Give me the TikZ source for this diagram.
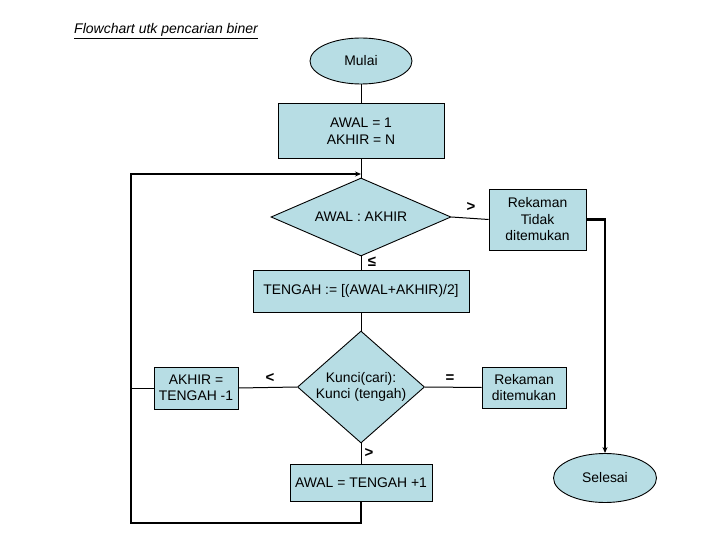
\documentclass[tikz,border=0pt]{standalone}
\usepackage{fontspec}
\setmainfont{Liberation Sans}
\usetikzlibrary{shapes.geometric,arrows.meta}
\definecolor{boxfill}{RGB}{183,221,228}
\begin{document}
\begin{tikzpicture}[x=1pt,y=-1pt,
  base/.style={draw=black,line width=0.9pt,fill=boxfill,font=\fontsize{13.9}{16.5}\selectfont,align=center,inner sep=0pt},
  procbox/.style={base,rectangle},
  term/.style={base,ellipse},
  decide/.style={base,diamond},
  conn/.style={line width=1pt},
  loopline/.style={line width=2.2pt},
  lbl/.style={font=\fontsize{15}{16}\selectfont\bfseries,inner sep=0pt}
]
\useasboundingbox (0,0) rectangle (720,540);

\node[anchor=base west,inner sep=0pt,font=\fontsize{14}{16}\selectfont\itshape] (title) at (74,34) {\underline{Flowchart utk pencarian biner}};

\node[term,minimum width=102pt,minimum height=46pt] (mulai) at (361,61) {Mulai};
\node[procbox,minimum width=166pt,minimum height=55pt] (init) at (361,131) {AWAL = 1\\AKHIR = N};
\node[decide,shape aspect=2.3,minimum width=180pt,minimum height=78pt] (d1) at (361,217) {AWAL : AKHIR};
\node[procbox,minimum width=97pt,minimum height=61pt] (tidak) at (537.5,219.5) {Rekaman\\Tidak\\ditemukan};
\node[procbox,minimum width=216pt,minimum height=42pt] (tengah) at (361,291) {TENGAH := [(AWAL+AKHIR)/2]};
\node[decide,shape aspect=1.13,minimum width=127pt,minimum height=112pt] (d2) at (361,387) {Kunci(cari):\\Kunci (tengah)};
\node[procbox,minimum width=84pt,minimum height=41pt] (found) at (524,387.5) {Rekaman\\ditemukan};
\node[procbox,minimum width=84pt,minimum height=42pt] (akhir) at (196,388) {AKHIR =\\TENGAH -1};
\node[procbox,minimum width=142pt,minimum height=37pt] (awal2) at (361,482.5) {AWAL = TENGAH +1};
\node[term,minimum width=103pt,minimum height=49pt] (selesai) at (605,478) {Selesai};

\coordinate (loopin) at (361,174);
\coordinate (lefttap) at (131,388);
\coordinate (lb) at (361,523);
\coordinate (lbl2) at (131,523);
\coordinate (ltl) at (131,174);

\draw[conn] (mulai.south) -- (init.north);
\draw[conn] (init.south) -- (d1.north);
\draw[conn] (d1.east) -- (tidak.west);
\draw[conn] (d1.south) -- (tengah.north);
\draw[conn] (tengah.south) -- (d2.north);
\draw[conn] (d2.east) -- (found.west);
\draw[conn] (d2.west) -- (akhir.east);
\draw[conn] (akhir.west) -- (lefttap);
\draw[conn] (d2.south) -- (awal2.north);

\draw[loopline,-{Stealth[length=6pt,width=5pt]}] (tidak.east) -| (selesai.north);
\draw[loopline,line join=miter,-{Stealth[length=6pt,width=5pt]}] (awal2.south) -- (lb) -- (lbl2) -- (ltl) -- (loopin);

\node[lbl] (l1) at (471,207) {>};
\node[lbl] (l2) at (372,262) {≤};
\node[lbl] (l3) at (270,378) {<};
\node[lbl] (l4) at (450,379) {=};
\node[lbl] (l5) at (369,453) {>};
\end{tikzpicture}
\end{document}
